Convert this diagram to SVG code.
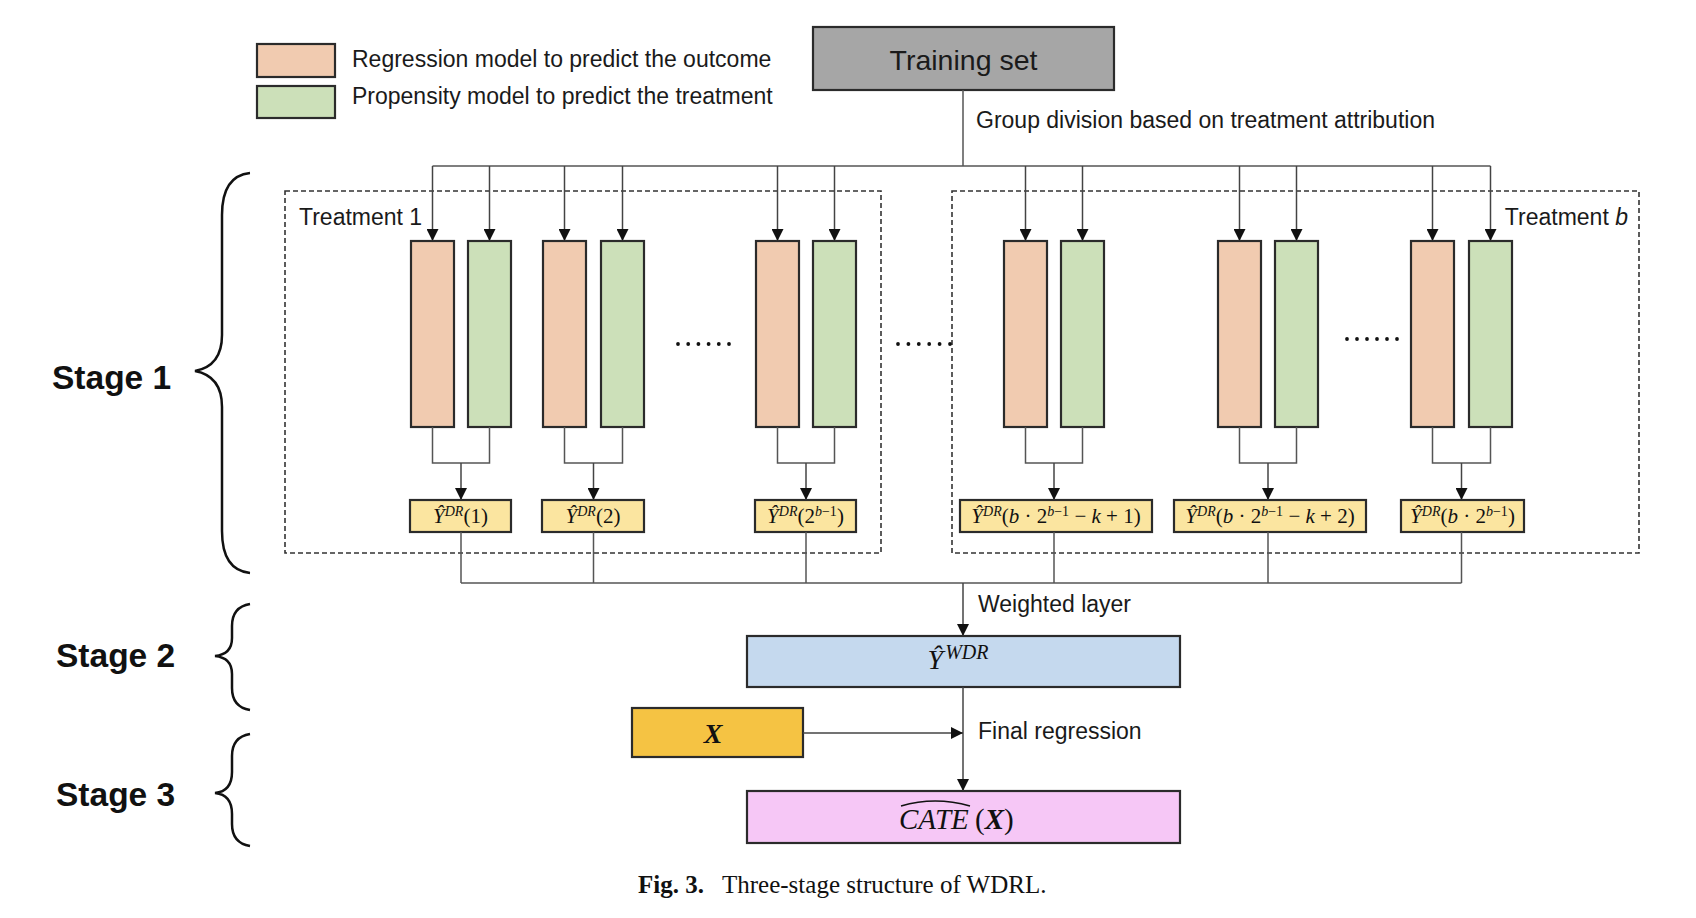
<svg xmlns="http://www.w3.org/2000/svg" width="1696" height="918" viewBox="0 0 1696 918">
<defs>
<marker id="ah" markerWidth="12" markerHeight="12" refX="12" refY="6" orient="auto" markerUnits="userSpaceOnUse"><path d="M0,0 L12,6 L0,12 z" fill="#111"/></marker>
<style>
.sans{font-family:"Liberation Sans",Arial,sans-serif;fill:#1a1a1a}
.lbl{font-size:23px}
.stage{font-family:"Liberation Sans",Arial,sans-serif;font-size:33.5px;font-weight:bold;fill:#111}
.math{font-family:"Liberation Serif","Times New Roman",serif;fill:#111}
.reg{fill:#f1cbb0;stroke:#2b2b2b;stroke-width:2.2}
.prop{fill:#cce0b9;stroke:#2b2b2b;stroke-width:2.2}
.ybox{fill:#fbe5a0;stroke:#2b2b2b;stroke-width:2.2}
.dash{fill:none;stroke:#333;stroke-width:1.6;stroke-dasharray:5 3}
.con{fill:none;stroke:#555;stroke-width:1.5}
.arr{fill:none;stroke:#444;stroke-width:1.5;marker-end:url(#ah)}
.brace{fill:none;stroke:#111;stroke-width:2.5}
.dot{fill:#111}
.dr{font-size:21px}
</style>
</defs>
<rect width="1696" height="918" fill="#fff"/>

<g id="legend">
<rect x="257" y="44" width="78" height="33" class="reg"/>
<rect x="257" y="86" width="78" height="32" class="prop"/>
<text x="352" y="67" class="sans lbl">Regression model to predict the outcome</text>
<text x="352" y="104" class="sans lbl">Propensity model to predict the treatment</text>
</g>

<g id="training-set">
<rect x="813" y="27" width="301" height="63" fill="#a6a6a6" stroke="#2b2b2b" stroke-width="2.2"/>
<text x="963.5" y="70" text-anchor="middle" class="sans" font-size="28.5">Training set</text>
</g>

<g id="treatment-1-group">
<rect x="285" y="191" width="596" height="362" class="dash"/>
<text x="299" y="225" class="sans lbl">Treatment 1</text>
</g>
<g id="treatment-b-group">
<rect x="952" y="191" width="687" height="362" class="dash"/>
<text x="1628" y="225" text-anchor="end" class="sans lbl">Treatment <tspan font-style="italic">b</tspan></text>
</g>

<g id="models">
<rect x="411" y="241" width="43" height="186" class="reg"/>
<rect x="468" y="241" width="43" height="186" class="prop"/>
<rect x="543" y="241" width="43" height="186" class="reg"/>
<rect x="601" y="241" width="43" height="186" class="prop"/>
<rect x="756" y="241" width="43" height="186" class="reg"/>
<rect x="813" y="241" width="43" height="186" class="prop"/>
<rect x="1004" y="241" width="43" height="186" class="reg"/>
<rect x="1061" y="241" width="43" height="186" class="prop"/>
<rect x="1218" y="241" width="43" height="186" class="reg"/>
<rect x="1275" y="241" width="43" height="186" class="prop"/>
<rect x="1411" y="241" width="43" height="186" class="reg"/>
<rect x="1469" y="241" width="43" height="186" class="prop"/>
</g>

<g id="ellipses">
<circle cx="678" cy="344" r="1.9" class="dot"/><circle cx="688.2" cy="344" r="1.9" class="dot"/><circle cx="698.4" cy="344" r="1.9" class="dot"/><circle cx="708.6" cy="344" r="1.9" class="dot"/><circle cx="718.8" cy="344" r="1.9" class="dot"/><circle cx="729" cy="344" r="1.9" class="dot"/>
<circle cx="898" cy="344" r="1.9" class="dot"/><circle cx="908.4" cy="344" r="1.9" class="dot"/><circle cx="918.8" cy="344" r="1.9" class="dot"/><circle cx="929.2" cy="344" r="1.9" class="dot"/><circle cx="939.6" cy="344" r="1.9" class="dot"/><circle cx="950" cy="344" r="1.9" class="dot"/>
<circle cx="1347" cy="339" r="1.9" class="dot"/><circle cx="1357" cy="339" r="1.9" class="dot"/><circle cx="1367" cy="339" r="1.9" class="dot"/><circle cx="1377" cy="339" r="1.9" class="dot"/><circle cx="1387" cy="339" r="1.9" class="dot"/><circle cx="1397" cy="339" r="1.9" class="dot"/>
</g>

<g id="ydr-1">
<rect x="410" y="500" width="101" height="32" class="ybox"/>
<text x="460.5" y="523" text-anchor="middle" class="math dr"><tspan font-style="italic">Ŷ</tspan><tspan font-style="italic" font-size="14" dy="-7">DR</tspan><tspan dy="7">(1)</tspan></text>
</g>
<g id="ydr-2">
<rect x="542" y="500" width="102" height="32" class="ybox"/>
<text x="593" y="523" text-anchor="middle" class="math dr"><tspan font-style="italic">Ŷ</tspan><tspan font-style="italic" font-size="14" dy="-7">DR</tspan><tspan dy="7">(2)</tspan></text>
</g>
<g id="ydr-3">
<rect x="755" y="500" width="101" height="32" class="ybox"/>
<text x="805.5" y="523" text-anchor="middle" class="math dr"><tspan font-style="italic">Ŷ</tspan><tspan font-style="italic" font-size="14" dy="-7">DR</tspan><tspan dy="7">(2</tspan><tspan font-size="14" dy="-7"><tspan font-style="italic">b</tspan>−1</tspan><tspan dy="7">)</tspan></text>
</g>
<g id="ydr-4">
<rect x="960" y="500" width="192" height="32" class="ybox"/>
<text x="1056" y="523" text-anchor="middle" class="math dr"><tspan font-style="italic">Ŷ</tspan><tspan font-style="italic" font-size="14" dy="-7">DR</tspan><tspan dy="7">(</tspan><tspan font-style="italic">b</tspan> · 2<tspan font-size="14" dy="-7"><tspan font-style="italic">b</tspan>−1</tspan><tspan dy="7"> − </tspan><tspan font-style="italic">k</tspan> + 1)</text>
</g>
<g id="ydr-5">
<rect x="1174" y="500" width="192" height="32" class="ybox"/>
<text x="1270" y="523" text-anchor="middle" class="math dr"><tspan font-style="italic">Ŷ</tspan><tspan font-style="italic" font-size="14" dy="-7">DR</tspan><tspan dy="7">(</tspan><tspan font-style="italic">b</tspan> · 2<tspan font-size="14" dy="-7"><tspan font-style="italic">b</tspan>−1</tspan><tspan dy="7"> − </tspan><tspan font-style="italic">k</tspan> + 2)</text>
</g>
<g id="ydr-6">
<rect x="1401" y="500" width="123" height="32" class="ybox"/>
<text x="1462.5" y="523" text-anchor="middle" class="math dr"><tspan font-style="italic">Ŷ</tspan><tspan font-style="italic" font-size="14" dy="-7">DR</tspan><tspan dy="7">(</tspan><tspan font-style="italic">b</tspan> · 2<tspan font-size="14" dy="-7"><tspan font-style="italic">b</tspan>−1</tspan><tspan dy="7">)</tspan></text>
</g>

<g id="y-wdr">
<rect x="747" y="636" width="433" height="51" fill="#c5d9ee" stroke="#2b2b2b" stroke-width="2.2"/>
<text x="958" y="669" text-anchor="middle" class="math" font-size="28"><tspan font-style="italic">Ŷ</tspan><tspan font-style="italic" font-size="20" dx="2" dy="-10">WDR</tspan></text>
</g>

<g id="x-input">
<rect x="632" y="708" width="171" height="49" fill="#f5c343" stroke="#2b2b2b" stroke-width="2.2"/>
<text x="713" y="743" text-anchor="middle" class="math" font-size="28" font-style="italic" font-weight="bold">X</text>
</g>

<g id="cate">
<rect x="747" y="791" width="433" height="52" fill="#f6c7f6" stroke="#2b2b2b" stroke-width="2.2"/>
<text y="829" class="math" font-size="29"><tspan x="899" font-style="italic">CATE</tspan><tspan x="975">(</tspan><tspan font-style="italic" font-weight="bold">X</tspan>)</text>
<path d="M901,806 Q935,796 970,806" fill="none" stroke="#111" stroke-width="1.4"/>
</g>

<g id="stage-labels">
<path class="brace" d="M250,173 C231,175 222,190 222,215 V335 C222,358 211,368 195,371 C211,374 222,384 222,407 V531 C222,556 231,571 250,573"/>
<text x="52" y="389" class="stage">Stage 1</text>
<path class="brace" d="M250,604 C238,606 232,614 232,626 V638 C232,650 225,655 215,656 C225,657 232,662 232,674 V688 C232,700 238,708 250,710"/>
<text x="56" y="667" class="stage">Stage 2</text>
<path class="brace" d="M250,734 C238,736 232,744 232,756 V772 C232,786 225,792 215,793 C225,794 232,800 232,814 V824 C232,836 238,844 250,846"/>
<text x="56" y="806" class="stage">Stage 3</text>
</g>

<g id="connectors">
<path class="con" d="M963,90 V166 M432.5,166 H1490.5"/>
<path class="arr" d="M432.5,166 V241"/>
<path class="arr" d="M489.5,166 V241"/>
<path class="arr" d="M564.5,166 V241"/>
<path class="arr" d="M622.5,166 V241"/>
<path class="arr" d="M777.5,166 V241"/>
<path class="arr" d="M834.5,166 V241"/>
<path class="arr" d="M1025.5,166 V241"/>
<path class="arr" d="M1082.5,166 V241"/>
<path class="arr" d="M1239.5,166 V241"/>
<path class="arr" d="M1296.5,166 V241"/>
<path class="arr" d="M1432.5,166 V241"/>
<path class="arr" d="M1490.5,166 V241"/>
<path class="con" d="M432.5,427 V463 H489.5 V427 M564.5,427 V463 H622.5 V427 M777.5,427 V463 H834.5 V427 M1025.5,427 V463 H1082.5 V427 M1239.5,427 V463 H1296.5 V427 M1432.5,427 V463 H1490.5 V427"/>
<path class="arr" d="M461,463 V500"/>
<path class="arr" d="M593.5,463 V500"/>
<path class="arr" d="M806,463 V500"/>
<path class="arr" d="M1054,463 V500"/>
<path class="arr" d="M1268,463 V500"/>
<path class="arr" d="M1461.5,463 V500"/>
<path class="con" d="M461,532 V583 M593.5,532 V583 M806,532 V583 M1054,532 V583 M1268,532 V583 M1461.5,532 V583 M461,583 H1461.5"/>
<path class="arr" d="M963,583 V636"/>
<path class="arr" d="M963,687 V791"/>
<path class="arr" d="M803,733 H963"/>
</g>

<g id="connector-labels">
<text x="976" y="128" class="sans lbl">Group division based on treatment attribution</text>
<text x="978" y="612" class="sans lbl">Weighted layer</text>
<text x="978" y="739" class="sans lbl">Final regression</text>
</g>

<g id="caption">
<text y="893" class="math" font-size="25"><tspan x="638" font-weight="bold">Fig. 3.</tspan><tspan x="722">Three-stage structure of WDRL.</tspan></text>
</g>
</svg>
